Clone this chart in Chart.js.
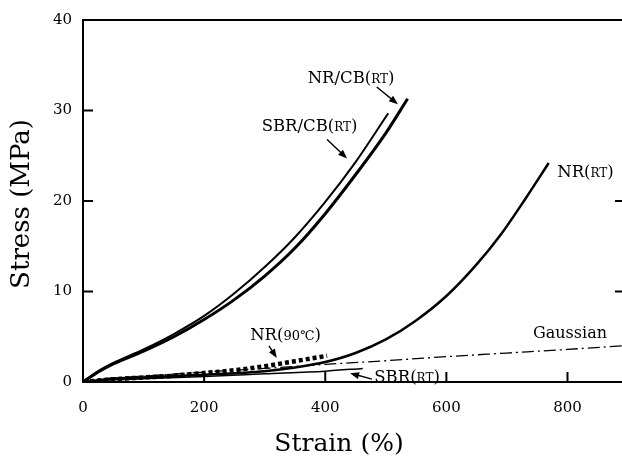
<!DOCTYPE html>
<html>
<head>
<meta charset="utf-8">
<script src="https://cdn.jsdelivr.net/npm/chart.js@4"></script>
<style>
  html, body { margin: 0; padding: 0; background: #fff; }
  #wrap { width: 622px; height: 458px; }
</style>
</head>
<body>
<div id="wrap"><canvas id="myChart"></canvas></div>
<script>
// values (strain in %, stress in MPa)
var nrCbStrain = [0, 25, 50, 100, 150, 200, 250, 300, 350, 400, 450, 500, 536];
var nrCbStress = [0, 1.1, 2.0, 3.4, 5.0, 6.9, 9.1, 11.7, 14.8, 18.6, 22.9, 27.5, 31.3];

var sbrCbStrain = [0, 25, 50, 100, 150, 200, 250, 300, 350, 400, 450, 504];
var sbrCbStress = [0, 1.2, 2.1, 3.6, 5.3, 7.3, 9.8, 12.7, 16.0, 19.9, 24.3, 29.7];

var nrRtStrain = [0, 50, 100, 200, 300, 350, 400, 450, 500, 550, 600, 650, 690, 730, 769];
var nrRtStress = [0, 0.35, 0.5, 0.8, 1.2, 1.6, 2.2, 3.2, 4.7, 6.8, 9.5, 13.0, 16.3, 20.2, 24.2];

var nr90Strain = [0, 50, 100, 150, 200, 250, 300, 350, 403];
var nr90Stress = [0, 0.3, 0.5, 0.7, 1.0, 1.3, 1.75, 2.3, 2.9];

var sbrRtStrain = [0, 50, 100, 200, 300, 400, 462];
var sbrRtStress = [0, 0.25, 0.35, 0.6, 0.9, 1.2, 1.5];

var gaussStrain = [0, 25, 50, 100, 200, 300, 400, 500, 600, 700, 800, 890];
var gaussStress = [0, 0.3, 0.45, 0.65, 1.1, 1.5, 1.95, 2.35, 2.8, 3.2, 3.6, 4.0];

var xTicks = [0, 200, 400, 600, 800];
var yTicks = [0, 10, 20, 30, 40];

var serif = "'DejaVu Serif', 'Liberation Serif', serif";
var ink = "#000";

function toPoints(xs, ys) {
  var pts = [];
  for (var i = 0; i < xs.length; i++) {
    pts.push({ x: xs[i], y: ys[i] });
  }
  return pts;
}

function curve(label, xs, ys, width, dash) {
  return {
    label: label,
    data: toPoints(xs, ys),
    borderColor: ink,
    borderWidth: width,
    borderDash: dash || [],
    borderCapStyle: "butt",
    fill: false,
    pointRadius: 0,
    cubicInterpolationMode: "monotone"
  };
}

// labels placed in data units
var notes = [
  { x: 371, y: 33.6, parts: [["NR/CB(", 16.5], ["RT", 12], [")", 16.5]], arrow: [485, 32.6, 520, 30.7] },
  { x: 295, y: 28.3, parts: [["SBR/CB(", 16.5], ["RT", 12], [")", 16.5]], arrow: [403, 26.8, 436, 24.7] },
  { x: 783, y: 23.3, parts: [["NR(", 16.5], ["RT", 12], [")", 16.5]] },
  { x: 743, y: 5.45, parts: [["Gaussian", 16]] },
  { x: 276, y: 5.25, parts: [["NR(", 16.5], ["90\u2103", 13], [")", 16.5]], arrow: [307, 4.0, 320, 2.65] },
  { x: 481, y: 0.6, parts: [["SBR(", 16.5], ["RT", 12], [")", 16.5]], arrow: [477, 0.32, 441, 0.98] }
];

function drawArrow(ctx, x1, y1, x2, y2) {
  var a = Math.atan2(y2 - y1, x2 - x1);
  var len = 9, half = 3.5;
  ctx.beginPath();
  ctx.moveTo(x1, y1);
  ctx.lineTo(x2 - Math.cos(a) * len * 0.8, y2 - Math.sin(a) * len * 0.8);
  ctx.lineWidth = 1.4;
  ctx.stroke();
  ctx.beginPath();
  ctx.moveTo(x2, y2);
  ctx.lineTo(x2 - Math.cos(a) * len - Math.sin(a) * half, y2 - Math.sin(a) * len + Math.cos(a) * half);
  ctx.lineTo(x2 - Math.cos(a) * len + Math.sin(a) * half, y2 - Math.sin(a) * len - Math.cos(a) * half);
  ctx.closePath();
  ctx.fill();
}

var extras = {
  id: "extras",
  afterDraw: function (chart) {
    var ctx = chart.ctx;
    var xs = chart.scales.x, ys = chart.scales.y;
    var area = chart.chartArea;
    ctx.save();
    ctx.strokeStyle = ink;
    ctx.fillStyle = ink;

    // frame top line
    ctx.lineWidth = 2;
    ctx.beginPath();
    ctx.moveTo(area.left - 1, area.top);
    ctx.lineTo(area.right, area.top);
    ctx.stroke();

    // inward ticks
    xTicks.forEach(function (v) {
      if (v === 0) return;
      var px = xs.getPixelForValue(v);
      ctx.beginPath();
      ctx.moveTo(px, area.bottom);
      ctx.lineTo(px, area.bottom - 10);
      ctx.stroke();
    });
    yTicks.forEach(function (v) {
      if (v === 0 || v === 40) return;
      var py = ys.getPixelForValue(v);
      ctx.beginPath();
      ctx.moveTo(area.left, py);
      ctx.lineTo(area.left + 10, py);
      ctx.stroke();
    });
    [10, 20].forEach(function (v) {
      var py = ys.getPixelForValue(v);
      ctx.beginPath();
      ctx.moveTo(area.right - 7, py);
      ctx.lineTo(area.right, py);
      ctx.stroke();
    });

    // curve labels
    notes.forEach(function (n) {
      var px = xs.getPixelForValue(n.x);
      var py = ys.getPixelForValue(n.y);
      var base = py + 5.5;
      ctx.textAlign = "left";
      ctx.textBaseline = "alphabetic";
      n.parts.forEach(function (p) {
        ctx.font = p[1] + "px " + serif;
        ctx.fillText(p[0], px, base);
        px += ctx.measureText(p[0]).width;
      });
      if (n.arrow) {
        drawArrow(ctx,
          xs.getPixelForValue(n.arrow[0]), ys.getPixelForValue(n.arrow[1]),
          xs.getPixelForValue(n.arrow[2]), ys.getPixelForValue(n.arrow[3]));
      }
    });

    // axis titles
    ctx.textAlign = "center";
    ctx.textBaseline = "middle";
    ctx.font = "25px " + serif;
    ctx.fillText("Strain (%)", 339, 444);
    ctx.translate(22, 204);
    ctx.rotate(-Math.PI / 2);
    ctx.font = "26px " + serif;
    ctx.fillText("Stress (MPa)", 0, 0);
    ctx.restore();
  }
};

var ctx = document.getElementById("myChart");

var data = {
  datasets: [
    curve("NR/CB(RT)", nrCbStrain, nrCbStress, 3),
    curve("SBR/CB(RT)", sbrCbStrain, sbrCbStress, 2),
    curve("NR(RT)", nrRtStrain, nrRtStress, 2.5),
    curve("NR(90\u2103)", nr90Strain, nr90Stress, 4.5, [4, 3]),
    curve("SBR(RT)", sbrRtStrain, sbrRtStress, 1.5),
    curve("Gaussian", gaussStrain, gaussStress, 1.3, [12, 4, 2, 4])
  ]
};

var options = {
  responsive: true,
  maintainAspectRatio: false,
  animation: false,
  layout: { padding: { top: 20, right: 0, left: 0, bottom: 0 } },
  plugins: {
    legend: { display: false },
    tooltip: { enabled: false }
  },
  scales: {
    x: {
      type: "linear",
      min: 0,
      max: 890,
      afterBuildTicks: function (scale) {
        scale.ticks = xTicks.map(function (v) { return { value: v }; });
      },
      afterFit: function (scale) { scale.height = 76; },
      grid: { display: false, drawTicks: false },
      border: { display: true, color: ink, width: 2 },
      ticks: { padding: 17, color: ink, font: { family: serif, size: 15 }, maxRotation: 0 }
    },
    y: {
      type: "linear",
      min: 0,
      max: 40,
      afterBuildTicks: function (scale) {
        scale.ticks = yTicks.map(function (v) { return { value: v }; });
      },
      afterFit: function (scale) { scale.width = 83; },
      grid: { display: false, drawTicks: false },
      border: { display: true, color: ink, width: 2 },
      ticks: { padding: 11, color: ink, font: { family: serif, size: 15 } }
    }
  }
};

var chart = new Chart(ctx, {
  type: "line",
  data: data,
  options: options,
  plugins: [extras]
});
</script>
</body>
</html>
